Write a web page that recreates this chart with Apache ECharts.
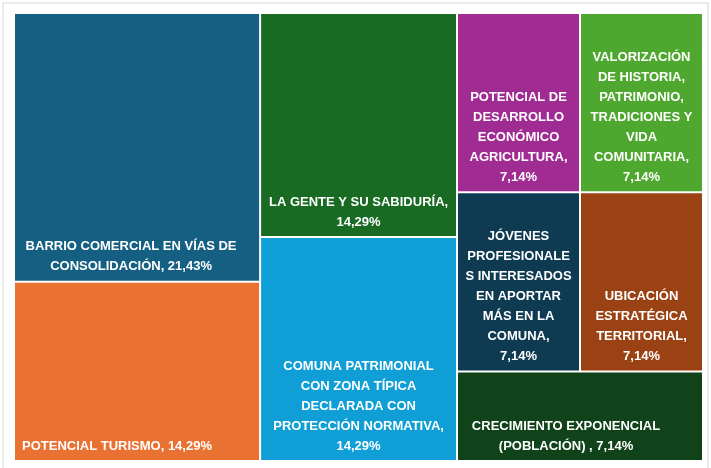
<!DOCTYPE html>
<html>
<head>
<meta charset="utf-8">
<script src="https://cdn.jsdelivr.net/npm/echarts@6/dist/echarts.min.js"></script>
<style>
  html, body { margin: 0; padding: 0; background: #ffffff; }
  #chart { width: 711px; height: 468px; }
</style>
</head>
<body>
<div id="chart"></div>
<script>
// categories, with the line breaks used in the picture
var categories = [
  'BARRIO COMERCIAL EN VÍAS DE\nCONSOLIDACIÓN,',
  'POTENCIAL TURISMO,',
  'LA GENTE Y SU SABIDURÍA,\n',
  'COMUNA PATRIMONIAL\nCON ZONA TÍPICA\nDECLARADA CON\nPROTECCIÓN NORMATIVA,\n',
  'POTENCIAL DE\nDESARROLLO\nECONÓMICO\nAGRICULTURA,\n',
  'VALORIZACIÓN\nDE HISTORIA,\nPATRIMONIO,\nTRADICIONES Y\nVIDA\nCOMUNITARIA,\n',
  'JÓVENES\nPROFESIONALE\nS INTERESADOS\nEN APORTAR\nMÁS EN LA\nCOMUNA,\n',
  'UBICACIÓN\nESTRATÉGICA\nTERRITORIAL,\n',
  'CRECIMIENTO EXPONENCIAL\n(POBLACIÓN) ,'
];
// share of each category (%)
var shares = [21.43, 14.29, 14.29, 14.29, 7.14, 7.14, 7.14, 7.14, 7.14];
// tile colours
var colors = ['#156082', '#E97132', '#196B24', '#0F9ED5', '#A02B93', '#4EA72E', '#0E3A52', '#9A4214', '#10431A'];
// how the tiles are grouped (indexes into the arrays above)
var groups = [[[0, 1], [2, 3]], [[[4, 6], [5, 7]], 8]];

function pct(v) {
  return v.toFixed(2).replace('.', ',') + '%';
}

function build(g) {
  if (typeof g === 'number') {
    var node = { name: categories[g], value: shares[g], itemStyle: { color: colors[g] } };
    if (g === 1) {
      // single line label sits at the bottom left
      node.label = { position: 'insideBottomLeft', distance: 0, padding: [0, 0, 4, 7] };
    } else if (g === 0) {
      node.label = { padding: [0, 12, 0, 0] };
    } else if (g === 8) {
      node.label = { padding: [0, 28, 0, 0] };
    }
    return node;
  }
  return { name: '', children: g.map(build) };
}

var chart = echarts.init(document.getElementById('chart'));

chart.setOption({
  backgroundColor: '#ffffff',
  animation: false,
  graphic: [{
    type: 'rect',
    silent: true,
    shape: { x: 3, y: 3, width: 705, height: 480 },
    style: { fill: 'none', stroke: '#e3e3e3', lineWidth: 1.5 }
  }],
  series: [{
    type: 'treemap',
    left: 15,
    top: 14,
    width: 687,
    height: 446,
    roam: false,
    nodeClick: false,
    sort: false,
    visibleMin: 0,
    breadcrumb: { show: false },
    upperLabel: { show: false },
    itemStyle: { borderWidth: 0, borderColor: '#ffffff', gapWidth: 2 },
    label: {
      show: true,
      position: 'insideBottom',
      distance: 4,
      padding: 0,
      overflow: 'none',
      color: '#ffffff',
      fontFamily: 'Liberation Sans, Arial, sans-serif',
      fontWeight: 'bold',
      fontSize: 13,
      lineHeight: 20,
      formatter: function (p) {
        var v = p.data.value;
        var name = p.name;
        return name.charAt(name.length - 1) === '\n' ? name + pct(v) : name + ' ' + pct(v);
      }
    },
    emphasis: { disabled: true },
    data: groups.map(build)
  }]
});
</script>
</body>
</html>
